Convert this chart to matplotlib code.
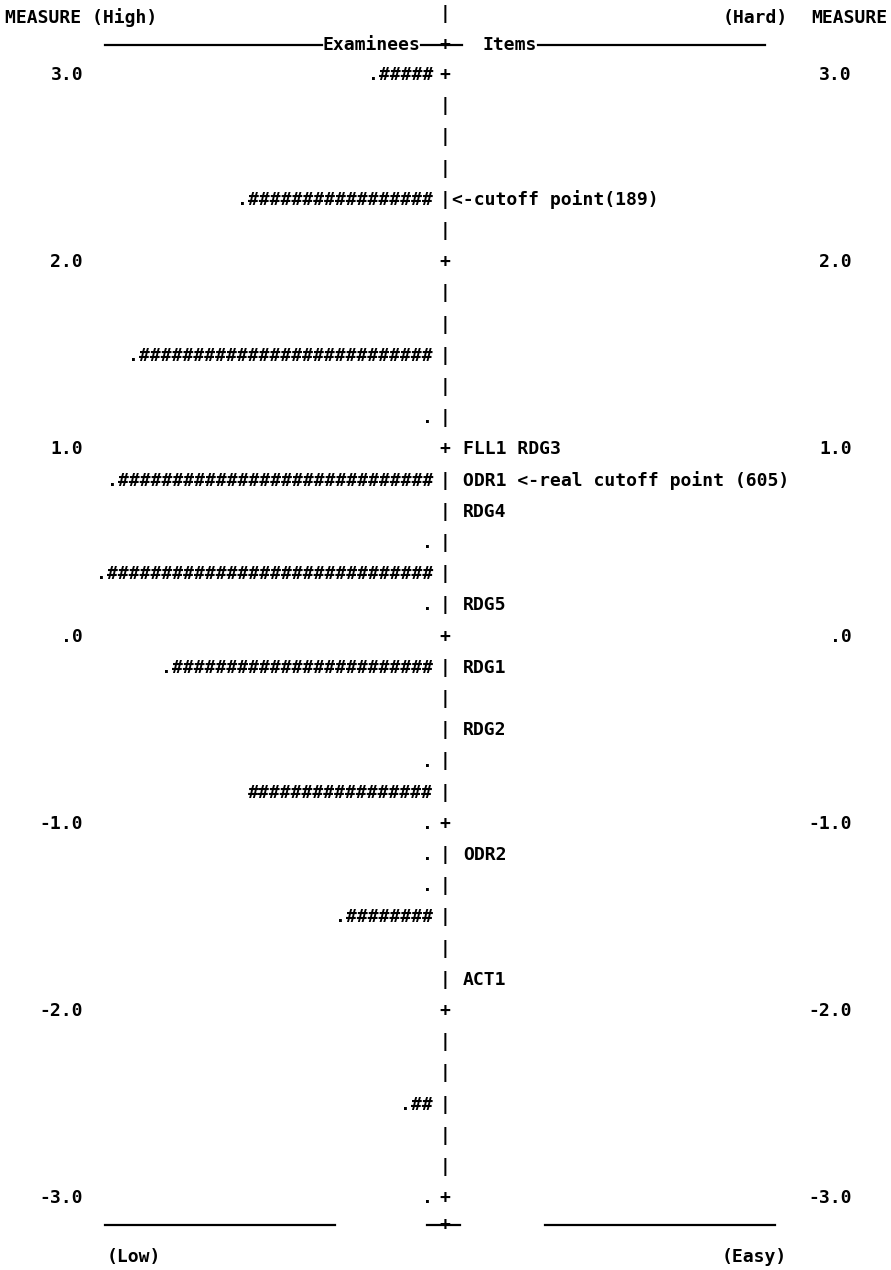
import matplotlib
matplotlib.use("Agg")
import matplotlib.pyplot as plt

# ── data ─────────────────────────────────────────────────────────────────────
# measure scale, 6 text rows per logit
tick_measures = [3.0, 2.0, 1.0, 0.0, -1.0, -2.0, -3.0]
tick_labels = ["3.0", "2.0", "1.0", ".0", "-1.0", "-2.0", "-3.0"]

# examinee rows: measure and number of '#'
person_measures = [3.0, 2.333, 1.5, 0.833, 0.333, -0.167, -0.833, -1.5, -2.5]
person_hashes = [5, 17, 27, 29, 30, 24, 17, 8, 2]
person_has_dot = [True, True, True, True, True, True, False, True, True]

# rows with only a '.'
dot_measures = [1.167, 0.5, 0.167, -0.667, -1.0, -1.167, -1.333, -3.0]

# items
item_measures = [2.333, 1.0, 0.833, 0.667, 0.167, -0.167, -0.5, -1.167, -1.833]
item_labels = ["<-cutoff point(189)", "FLL1 RDG3", "ODR1 <-real cutoff point (605)",
               "RDG4", "RDG5", "RDG1", "RDG2", "ODR2", "ACT1"]

N_ROWS = 36
ROW_STEP = 1 / 6

# ── layout ───────────────────────────────────────────────────────────────────
FONT = "DejaVu Sans Mono"
FS = 13
XC = 445          # centre column
TXT = dict(family=FONT, fontsize=FS, fontweight="bold", color="black")

fig = plt.figure(figsize=(8.91, 12.70), dpi=100, facecolor="white")
ax = fig.add_axes([0, 0, 1, 1])
ax.set_xlim(0, 891)
ax.set_ylim(-3.383, 3.401)
ax.axis("off")

# centre column of '|' and '+'
for k in range(N_ROWS + 1):
    m = 3.0 - k * ROW_STEP
    sym = "+" if k % 6 == 0 else "|"
    ax.text(XC, m, sym, ha="center", va="center", **TXT)

# measure labels both sides
for m, lab in zip(tick_measures, tick_labels):
    ax.text(83, m, lab, ha="right", va="center", **TXT)
    ax.text(852, m, lab, ha="right", va="center", **TXT)

# examinees
for m, n, d in zip(person_measures, person_hashes, person_has_dot):
    s = ("." if d else "") + "#" * n
    ax.text(433, m, s, ha="right", va="center", **TXT)
for m in dot_measures:
    ax.text(433, m, ".", ha="right", va="center", **TXT)

# items
for m, lab in zip(item_measures, item_labels):
    x = 452 if lab.startswith("<") else 463
    ax.text(x, m, lab, ha="left", va="center", **TXT)

# header
y_head, y_sep = 3.305, 3.16
ax.text(5, y_head, "MEASURE (High)", ha="left", va="center", **TXT)
ax.text(XC, y_head + 0.02, "|", ha="center", va="center", **TXT)
ax.text(723, y_head, "(Hard)", ha="left", va="center", **TXT)
ax.text(887, y_head, "MEASURE", ha="right", va="center", **TXT)

ax.plot([105, 322], [y_sep, y_sep], color="black", lw=1.6)
ax.text(322, y_sep, "Examinees", ha="left", va="center", **TXT)
ax.plot([421, 462], [y_sep, y_sep], color="black", lw=1.6)
ax.text(XC, y_sep, "+", ha="center", va="center", **TXT)
ax.text(483, y_sep, "Items", ha="left", va="center", **TXT)
ax.plot([538, 765], [y_sep, y_sep], color="black", lw=1.6)

# footer
y_foot, y_end = -3.143, -3.314
ax.plot([105, 335], [y_foot, y_foot], color="black", lw=1.6)
ax.plot([427, 460], [y_foot, y_foot], color="black", lw=1.6)
ax.text(XC, y_foot, "+", ha="center", va="center", **TXT)
ax.plot([545, 775], [y_foot, y_foot], color="black", lw=1.6)
ax.text(107, y_end, "(Low)", ha="left", va="center", **TXT)
ax.text(787, y_end, "(Easy)", ha="right", va="center", **TXT)

fig.savefig("out.png", dpi=100, facecolor="white")
